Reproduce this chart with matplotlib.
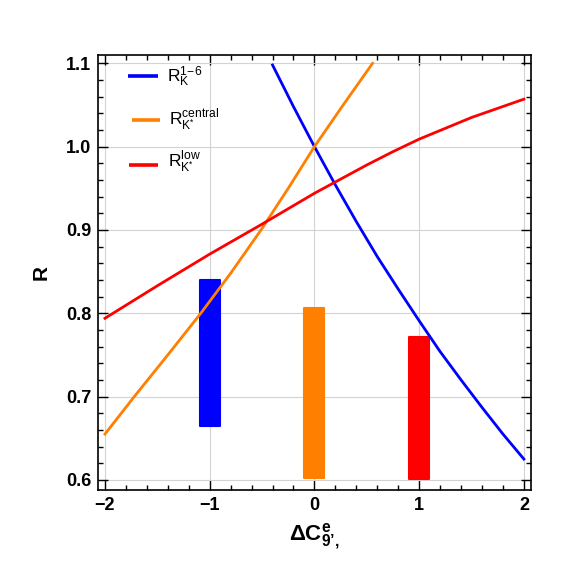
import matplotlib
matplotlib.use("Agg")
import matplotlib.pyplot as plt
from matplotlib.ticker import MultipleLocator, FixedLocator

plt.rcParams['font.family'] = ['Liberation Sans', 'DejaVu Sans']
plt.rcParams['mathtext.fontset'] = 'custom'
plt.rcParams['mathtext.rm'] = 'Liberation Sans'
plt.rcParams['mathtext.it'] = 'Liberation Sans:italic'
plt.rcParams['mathtext.bf'] = 'Liberation Sans:bold'

# ---- data ----
blue_x = [-0.4, -0.2, 0.0, 0.2, 0.4, 0.6, 0.8, 1.0, 1.2, 1.4, 1.6, 1.8, 2.0]
blue_y = [1.098, 1.048, 1.000, 0.954, 0.910, 0.868, 0.829, 0.791, 0.754, 0.720, 0.687, 0.655, 0.625]

orange_x = [-2.0, -1.72, -1.4, -1.085, -0.8, -0.51, -0.25, 0.0, 0.28, 0.555]
orange_y = [0.655, 0.700, 0.750, 0.800, 0.848, 0.900, 0.950, 1.000, 1.051, 1.100]

red_x = [-2.0, -1.5, -1.0, -0.5, 0.0, 0.25, 0.5, 0.75, 1.0, 1.25, 1.5, 1.75, 2.0]
red_y = [0.794, 0.833, 0.871, 0.907, 0.944, 0.961, 0.978, 0.994, 1.009, 1.022, 1.035, 1.046, 1.057]

bar_x = [-1.0, 0.0, 1.0]
bar_low = [0.665, 0.602, 0.601]
bar_high = [0.840, 0.806, 0.771]

series_colors = ['#0000ff', '#ff7f00', '#ff0000']
labels = [r"$\mathrm{R}_{\mathrm{K}}^{1\!-\!6}$",
          r"$\mathrm{R}_{\mathrm{K}^{*}}^{\mathrm{central}}$",
          r"$\mathrm{R}_{\mathrm{K}^{*}}^{\mathrm{low}}$"]
xticks = [-2, -1, 0, 1, 2]
xticklabels = ["\u22122", "\u22121", "0", "1", "2"]
yticks = [0.6, 0.7, 0.8, 0.9, 1.0, 1.1]
yticklabels = ["0.6", "0.7", "0.8", "0.9", "1.0", "1.1"]

fig = plt.figure(figsize=(5.63, 5.67), dpi=100)
ax = fig.add_axes([0.174, 0.136, 0.769, 0.767])

lw = 2.0
ax.plot(blue_x, blue_y, color=series_colors[0], lw=lw, zorder=3, solid_joinstyle='round')
ax.plot(orange_x, orange_y, color=series_colors[1], lw=lw, zorder=3, solid_joinstyle='round')
ax.plot(red_x, red_y, color=series_colors[2], lw=lw, zorder=3, solid_joinstyle='round')

heights = [h - l for h, l in zip(bar_high, bar_low)]
ax.bar(bar_x, heights, bottom=bar_low, width=0.19, color=series_colors,
       edgecolor=series_colors, linewidth=1.5, joinstyle='round', zorder=2)

ax.set_xlim(-2.067, 2.067)
ax.set_ylim(0.588, 1.110)

ax.xaxis.set_major_locator(FixedLocator(xticks))
ax.set_xticklabels(xticklabels)
ax.yaxis.set_major_locator(FixedLocator(yticks))
ax.set_yticklabels(yticklabels)
ax.xaxis.set_minor_locator(MultipleLocator(0.2))
ax.yaxis.set_minor_locator(MultipleLocator(0.02))
ax.tick_params(which='both', direction='in', top=True, right=True, width=1.0, color='black')
ax.tick_params(which='major', length=7, labelsize=13, pad=5)
ax.tick_params(which='minor', length=3.8)
for lab in ax.get_xticklabels() + ax.get_yticklabels():
    lab.set_fontweight('bold')

ax.grid(True, which='major', color='#d3d3d3', lw=0.8, zorder=0)
ax.set_axisbelow(True)
for sp in ax.spines.values():
    sp.set_linewidth(1.2)

ax.set_ylabel("R", fontsize=15, fontweight='bold', labelpad=11)
ax.set_xlabel("$\\mathbf{\\Delta C^{e}_{9\u2019,}}$", fontsize=16, fontweight='bold', labelpad=6)

# legend (manual, in axes coordinates)
leg_y_line = [0.952, 0.851, 0.747]
leg_y_text = [0.938, 0.836, 0.740]
leg_x0 = [0.069, 0.078, 0.071]
leg_x1 = [0.139, 0.143, 0.139]
leg_xt = [0.159, 0.164, 0.162]
for i in range(3):
    ax.plot([leg_x0[i], leg_x1[i]], [leg_y_line[i]] * 2, color=series_colors[i], lw=2.6,
            transform=ax.transAxes, solid_capstyle='butt', zorder=4)
    ax.text(leg_xt[i], leg_y_text[i], labels[i], transform=ax.transAxes, fontsize=12.5,
            ha='left', va='baseline', zorder=4)

fig.savefig("out.png", dpi=100)
